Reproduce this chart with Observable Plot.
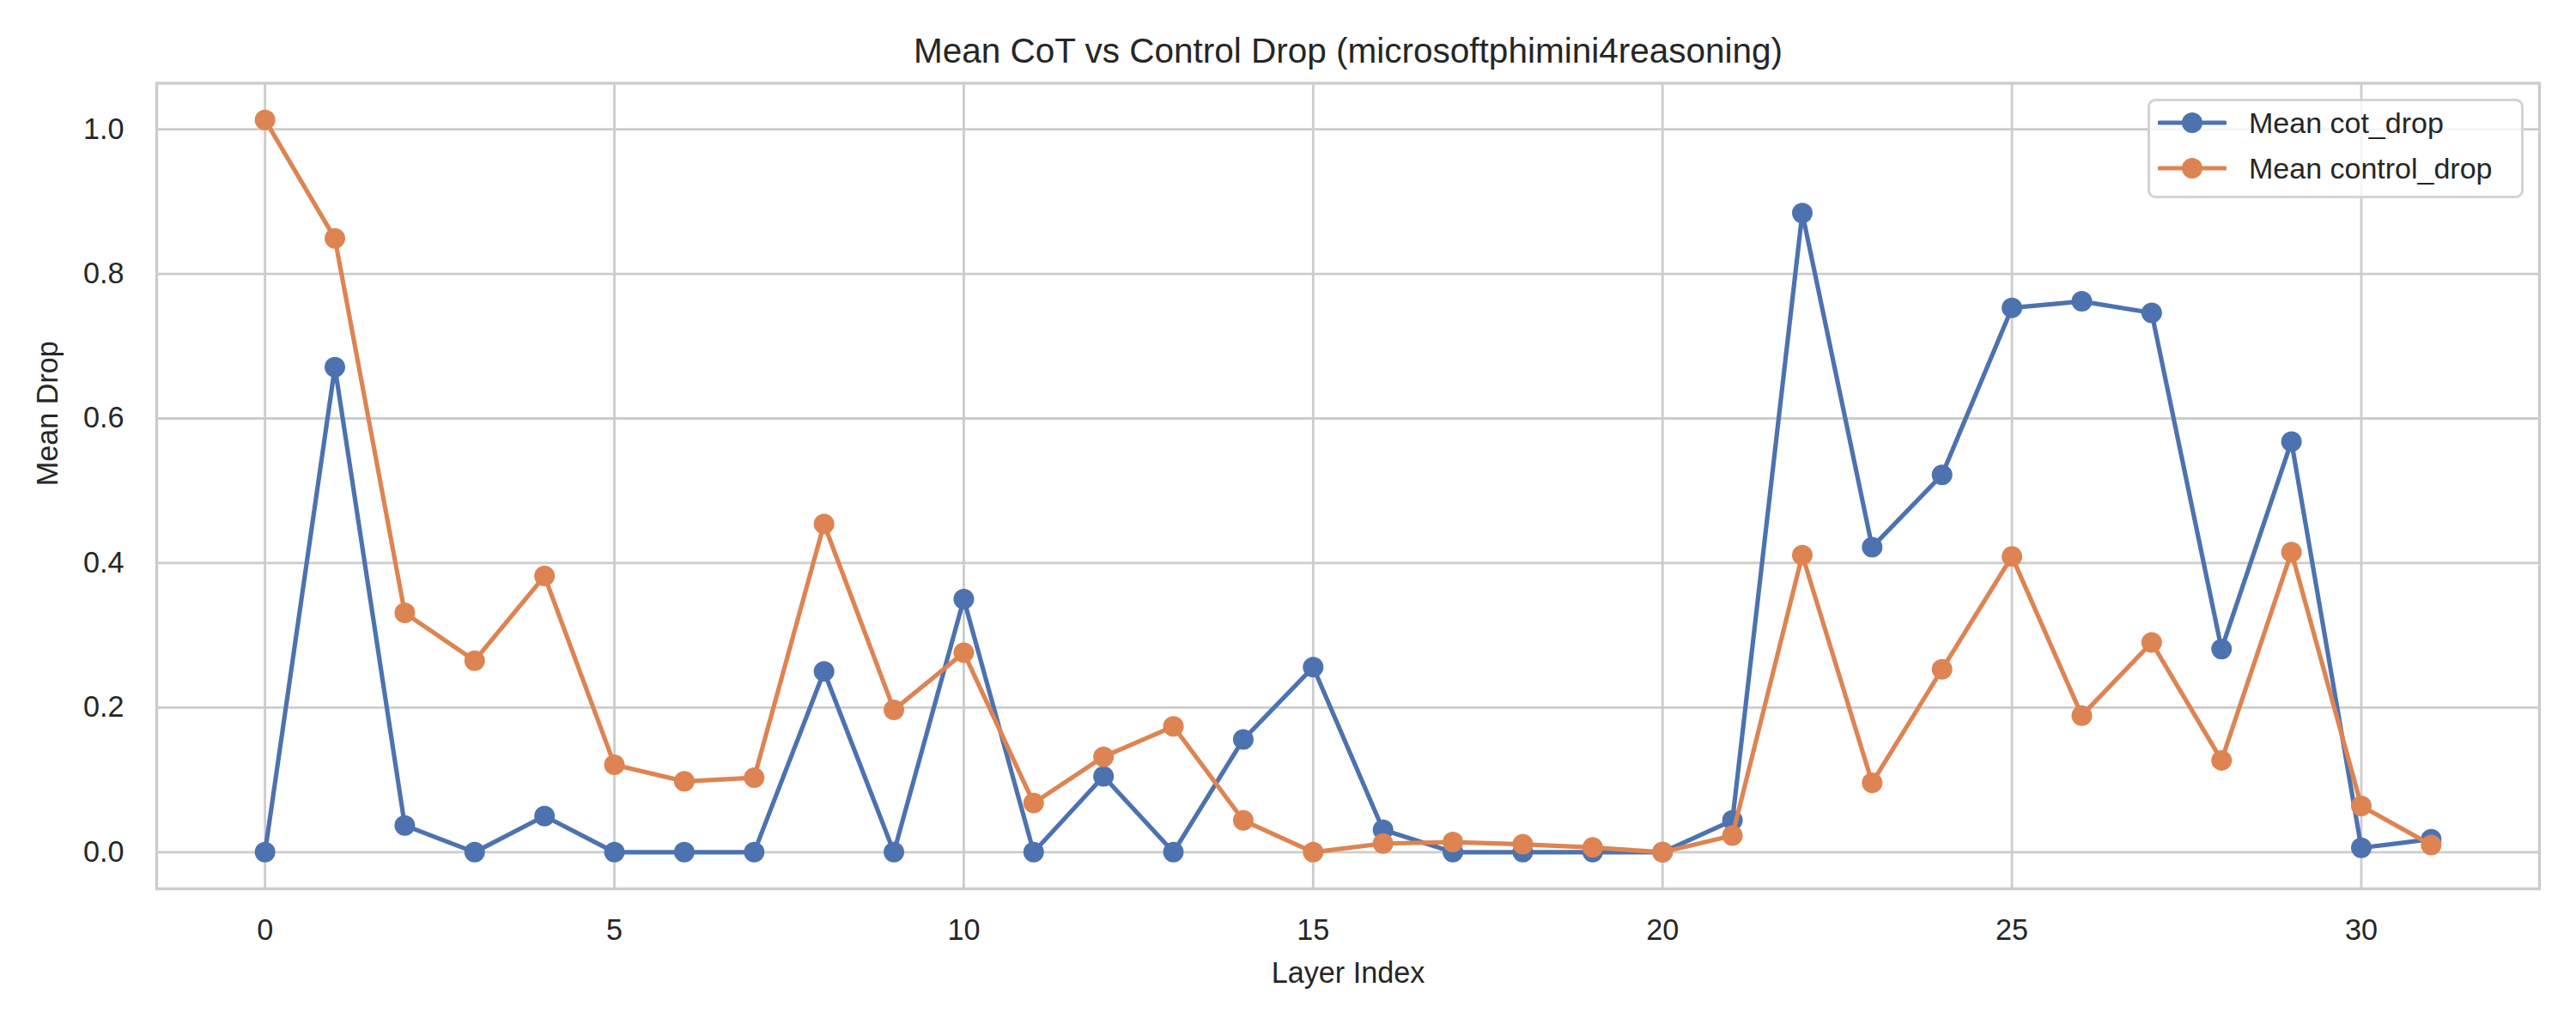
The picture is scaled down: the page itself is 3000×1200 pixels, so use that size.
<!DOCTYPE html>
<html>
<head>
<meta charset="utf-8">
<script src="https://cdn.jsdelivr.net/npm/d3@7"></script>
<script src="https://cdn.jsdelivr.net/npm/@observablehq/plot@0.6"></script>
<style>
  html, body { margin: 0; padding: 0; background: #ffffff; }
  #wrap { position: relative; width: 3000px; height: 1200px; font-family: "Liberation Sans", Arial, sans-serif; color: #262626; }
  #legend { position: absolute; left: 2501px; top: 115px; width: 432px; height: 110px; border: 3px solid #d3d3d3; border-radius: 9px; background: rgba(255,255,255,0.8); box-sizing: content-box; }
  .row { position: absolute; left: 0; height: 40px; display: flex; align-items: center; }
  .row svg { margin-left: 9px; }
  .row span { position: absolute; left: 115px; font-size: 34px; white-space: nowrap; line-height: 40px; }
</style>
</head>
<body>
<div id="wrap"></div>
<script>
const layers = [0,1,2,3,4,5,6,7,8,9,10,11,12,13,14,15,16,17,18,19,20,21,22,23,24,25,26,27,28,29,30,31];
const cotDrop = [0, 0.671, 0.037, 0, 0.050, 0, 0, 0, 0.250, 0, 0.350, 0, 0.105, 0, 0.156, 0.256, 0.031, 0, 0, 0, 0, 0.044, 0.884, 0.422, 0.522, 0.753, 0.762, 0.746, 0.281, 0.568, 0.006, 0.018];
const controlDrop = [1.013, 0.849, 0.331, 0.265, 0.382, 0.121, 0.098, 0.103, 0.454, 0.197, 0.276, 0.068, 0.132, 0.174, 0.044, 0, 0.012, 0.014, 0.011, 0.0065, 0, 0.023, 0.411, 0.096, 0.253, 0.409, 0.189, 0.290, 0.127, 0.415, 0.064, 0.010];
const xTicks = [0, 5, 10, 15, 20, 25, 30];
const yTicks = [0, 0.2, 0.4, 0.6, 0.8, 1.0];
const seriesNames = ["Mean cot_drop", "Mean control_drop"];
const seriesColors = ["#4C72B0", "#DD8452"];
const titleText = "Mean CoT vs Control Drop (microsoftphimini4reasoning)";
const xLabel = "Layer Index";
const yLabel = "Mean Drop";

const table = layers.map((l, i) => ({layer: l, cot: cotDrop[i], control: controlDrop[i]}));

// matplotlib-style 5% margins
const xmin = d3.min(layers), xmax = d3.max(layers);
const xm = (xmax - xmin) * 0.05;
const allY = cotDrop.concat(controlDrop);
const ymin = d3.min(allY), ymax = d3.max(allY);
const ym = (ymax - ymin) * 0.05;

const fs = 34.2;
const chart = Plot.plot({
  width: 3000,
  height: 1200,
  marginLeft: 182,
  marginRight: 43,
  marginTop: 96.5,
  marginBottom: 165,
  style: {fontFamily: '"Liberation Sans", Arial, sans-serif', fontSize: fs + "px", color: "#262626", background: "#ffffff", overflow: "visible"},
  x: {domain: [xmin - xm, xmax + xm]},
  y: {domain: [ymin - ym, ymax + ym]},
  marks: [
    Plot.gridX(xTicks, {stroke: "#cccccc", strokeOpacity: 1, strokeWidth: 2.8}),
    Plot.gridY(yTicks, {stroke: "#cccccc", strokeOpacity: 1, strokeWidth: 2.8}),
    Plot.axisX(xTicks, {tickSize: 0, tickPadding: 35, fontSize: fs, label: null, fill: "#262626"}),
    Plot.axisY(yTicks, {tickSize: 0, tickPadding: 38, fontSize: fs, label: null, tickFormat: d3.format(".1f"), fill: "#262626"}),
    Plot.line(table, {x: "layer", y: "cot", stroke: seriesColors[0], strokeWidth: 5.2}),
    Plot.dot(table, {x: "layer", y: "cot", r: 12, fill: seriesColors[0], stroke: null}),
    Plot.line(table, {x: "layer", y: "control", stroke: seriesColors[1], strokeWidth: 5.2}),
    Plot.dot(table, {x: "layer", y: "control", r: 12, fill: seriesColors[1], stroke: null}),
    Plot.frame({stroke: "#cccccc", strokeWidth: 3.4}),
    Plot.text([titleText], {frameAnchor: "top", lineAnchor: "bottom", dy: -24, fontSize: 40.5, fill: "#262626"}),
    Plot.text([xLabel], {frameAnchor: "bottom", lineAnchor: "top", dy: 85, fontSize: fs, fill: "#262626"}),
    Plot.text([yLabel], {frameAnchor: "left", lineAnchor: "middle", rotate: -90, dx: -126, fontSize: fs, fill: "#262626"})
  ]
});

const wrap = document.getElementById("wrap");
wrap.appendChild(chart);

const legend = document.createElement("div");
legend.id = "legend";
seriesNames.forEach((name, i) => {
  const row = document.createElement("div");
  row.className = "row";
  row.style.top = (i === 0 ? 5 : 58) + "px";
  const sw = d3.create("svg").attr("width", 80).attr("height", 40);
  sw.append("line").attr("x1", 2).attr("x2", 78).attr("y1", 20).attr("y2", 20)
    .attr("stroke", seriesColors[i]).attr("stroke-width", 5.2).attr("stroke-linecap", "round");
  sw.append("circle").attr("cx", 40).attr("cy", 20).attr("r", 12).attr("fill", seriesColors[i]);
  row.appendChild(sw.node());
  const t = document.createElement("span");
  t.textContent = name;
  row.appendChild(t);
  legend.appendChild(row);
});
wrap.appendChild(legend);
</script>
</body>
</html>
